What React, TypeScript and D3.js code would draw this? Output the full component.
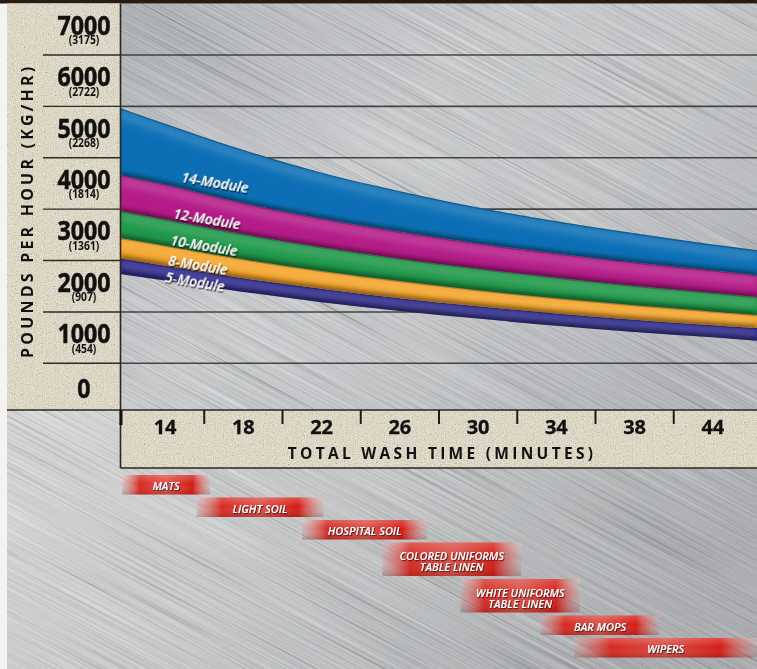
import React from 'react';
import * as d3 from 'd3';

// Wash-time categories on the horizontal axis (minutes)
const washTimes = [14, 18, 22, 26, 30, 34, 38, 44];

// Throughput ticks (lbs/hr) with metric equivalents (kg/hr)
const lbsTicks = [0, 1000, 2000, 3000, 4000, 5000, 6000, 7000];
const kgTicks = ['', '454', '907', '1361', '1814', '2268', '2722', '3175'];
const gridValues = [500, 1500, 2500, 3500, 4500, 5500, 6500];

// Capacity curves sampled along the wash-time axis (minutes -> lbs/hr)
const sampleMinutes = [11.7, 14, 18, 22, 26, 30, 34, 38, 44, 47.4];
const module14 = [5470, 5160, 4650, 4210, 3850, 3530, 3265, 3030, 2810, 2700];
const module12 = [4165, 3980, 3615, 3315, 3060, 2830, 2635, 2460, 2305, 2215];
const module10 = [3465, 3300, 3010, 2760, 2535, 2340, 2165, 2005, 1870, 1790];
const module8 = [2940, 2790, 2525, 2295, 2100, 1920, 1765, 1630, 1510, 1440];
const module5 = [2540, 2400, 2155, 1950, 1765, 1610, 1470, 1350, 1240, 1185];
const module5Floor = [2240, 2110, 1890, 1690, 1520, 1370, 1230, 1110, 1005, 940];

const moduleNames = ['5-Module', '8-Module', '10-Module', '12-Module', '14-Module'];
const moduleColors = ['#2d298c', '#f4a328', '#1e9748', '#b41b88', '#0c6fb5'];

// Typical wash-time ranges by soil type (minutes)
const soilLines = [
  ['MATS'],
  ['LIGHT SOIL'],
  ['HOSPITAL SOIL'],
  ['COLORED UNIFORMS', 'TABLE LINEN'],
  ['WHITE UNIFORMS', 'TABLE LINEN'],
  ['BAR MOPS'],
  ['WIPERS'],
];
const soilStart = [11.8, 15.6, 21.0, 25.1, 29.1, 33.2, 34.9];
const soilEnd = [16.3, 22.1, 27.4, 32.2, 35.2, 39.9, 47.4];

const FONT = "'Open Sans', 'Liberation Sans', sans-serif";

export default function App() {
  const W = 757;
  const H = 669;
  const plot = { left: 120.5, right: 757, top: 3.5, bottom: 410 };
  const axisBottom = 468;

  const xBand = d3.scaleBand<string>().domain(washTimes.map(String)).range([126, 752]);
  const centers = washTimes.map((t) => (xBand(String(t)) ?? 0) + xBand.bandwidth() / 2);
  const xMin = d3.scaleLinear().domain(washTimes).range(centers);
  const y = d3.scaleLinear().domain([-500, 7500]).range([414.7, 3.6]);

  const tops = [module5, module8, module10, module12, module14];
  const bottoms = [module5Floor, module5, module8, module10, module12];

  type P = { t: number; lo: number; hi: number };
  const area = d3
    .area<P>()
    .x((d) => xMin(d.t))
    .y0((d) => y(d.lo))
    .y1((d) => y(d.hi))
    .curve(d3.curveMonotoneX);
  const edge = d3
    .line<{ t: number; v: number }>()
    .x((d) => xMin(d.t))
    .y((d) => y(d.v))
    .curve(d3.curveMonotoneX);

  const bands = moduleNames.map((name, k) => {
    const pts: P[] = sampleMinutes.map((t, i) => ({ t, lo: bottoms[k][i], hi: tops[k][i] }));
    return {
      name,
      color: moduleColors[k],
      d: area(pts) ?? '',
      top: edge(sampleMinutes.map((t, i) => ({ t, v: tops[k][i] }))) ?? '',
      bottom: edge(sampleMinutes.map((t, i) => ({ t, v: bottoms[k][i] }))) ?? '',
      hiAt: d3.scaleLinear().domain(sampleMinutes).range(tops[k]),
      loAt: d3.scaleLinear().domain(sampleMinutes).range(bottoms[k]),
    };
  });

  // ribbon label anchors (minute along the ribbon, vertical nudge)
  const labelMinute = [15.53, 15.68, 15.99, 16.14, 16.55];
  const labelDy = [3, 3, 5, 7, 13];

  // soil-type bar rows
  let cursor = 475;
  const rows = soilLines.map((lines, i) => {
    const h = lines.length > 1 ? 33.5 : 19.5;
    const r = { y: cursor, h, x0: xMin(soilStart[i]), x1: xMin(soilEnd[i]), lines };
    cursor += h + 3;
    return r;
  });

  const tickXs = washTimes.slice(1).map((t) => xBand(String(t)) ?? 0);

  return (
    <svg
      width={W}
      height={H}
      viewBox={`0 0 ${W} ${H}`}
      style={{ position: 'absolute', left: 0, top: 0, display: 'block' }}
      fontFamily={FONT}
    >
      <defs>
        <linearGradient id="metalTop" x1="0" y1="0" x2="1" y2="0.6">
          <stop offset="0" stopColor="#a8acb1" />
          <stop offset="0.45" stopColor="#ced0d3" />
          <stop offset="0.75" stopColor="#c5c8cb" />
          <stop offset="1" stopColor="#b3b6ba" />
        </linearGradient>
        <linearGradient id="metalBottom" x1="0" y1="0" x2="1" y2="0.3">
          <stop offset="0" stopColor="#e0e1e2" />
          <stop offset="0.5" stopColor="#c8cacc" />
          <stop offset="1" stopColor="#a5a8ac" />
        </linearGradient>
        <linearGradient id="redBar" x1="0" y1="0" x2="1" y2="0">
          <stop offset="0" stopColor="#e7675f" stopOpacity="0.15" />
          <stop offset="0.2" stopColor="#d8231b" stopOpacity="0.95" />
          <stop offset="0.5" stopColor="#df4238" stopOpacity="0.9" />
          <stop offset="0.8" stopColor="#d51c16" stopOpacity="1" />
          <stop offset="1" stopColor="#e7675f" stopOpacity="0.1" />
        </linearGradient>
        <linearGradient id="redShade" x1="0" y1="0" x2="0" y2="1">
          <stop offset="0" stopColor="#ffffff" stopOpacity="0.22" />
          <stop offset="0.45" stopColor="#ffffff" stopOpacity="0" />
          <stop offset="1" stopColor="#000000" stopOpacity="0.15" />
        </linearGradient>
        <filter id="brush" x="0" y="0" width="1" height="1">
          <feTurbulence type="fractalNoise" baseFrequency="0.005 0.6" numOctaves="2" seed="7" />
          <feColorMatrix
            type="matrix"
            values="0.33 0.33 0.33 0 0  0.33 0.33 0.33 0 0  0.33 0.33 0.33 0 0  0 0 0 0 1"
          />
          <feComponentTransfer>
            <feFuncR type="linear" slope="2.2" intercept="-0.6" />
            <feFuncG type="linear" slope="2.2" intercept="-0.6" />
            <feFuncB type="linear" slope="2.2" intercept="-0.6" />
          </feComponentTransfer>
        </filter>
        <filter id="grain" x="0" y="0" width="1" height="1">
          <feTurbulence type="fractalNoise" baseFrequency="0.9" numOctaves="2" seed="3" />
          <feColorMatrix
            type="matrix"
            values="0.33 0.33 0.33 0 0  0.33 0.33 0.33 0 0  0.33 0.33 0.33 0 0  0 0 0 0 1"
          />
          <feComponentTransfer>
            <feFuncR type="linear" slope="2.2" intercept="-0.6" />
            <feFuncG type="linear" slope="2.2" intercept="-0.6" />
            <feFuncB type="linear" slope="2.2" intercept="-0.6" />
          </feComponentTransfer>
        </filter>
        <filter id="soft" x="-10%" y="-50%" width="120%" height="200%">
          <feGaussianBlur stdDeviation="2.2" />
        </filter>
        <filter id="softer" x="-10%" y="-50%" width="120%" height="200%">
          <feGaussianBlur stdDeviation="3.5" />
        </filter>
        <filter id="barBlur" x="-5%" y="-20%" width="110%" height="140%">
          <feGaussianBlur stdDeviation="0.7" />
        </filter>
        <filter id="textShadow" x="-20%" y="-40%" width="140%" height="180%">
          <feDropShadow dx="1.2" dy="1.5" stdDeviation="0.7" floodColor="#000" floodOpacity="0.75" />
        </filter>
        <filter id="smallShadow" x="-20%" y="-40%" width="140%" height="180%">
          <feDropShadow dx="0.9" dy="1.1" stdDeviation="0.5" floodColor="#222" floodOpacity="0.8" />
        </filter>
        <clipPath id="plotClip">
          <rect x={plot.left} y={plot.top} width={plot.right - plot.left} height={plot.bottom - plot.top} />
        </clipPath>
        <clipPath id="metalClip">
          <rect x={7} y={plot.top} width={W - 7} height={H - plot.top} />
        </clipPath>
        <clipPath id="beigeClip">
          <rect x={7} y={plot.top} width={plot.left - 7} height={plot.bottom - plot.top} />
          <rect x={plot.left} y={plot.bottom} width={W - plot.left} height={axisBottom - plot.bottom} />
        </clipPath>
        {bands.map((b, k) => (
          <clipPath id={`band${k}`} key={b.name}>
            <path d={b.d} />
          </clipPath>
        ))}
      </defs>

      {/* page and brushed-metal backdrop */}
      <rect x={0} y={0} width={W} height={H} fill="#f3f3f3" />
      <rect x={7} y={plot.bottom} width={W - 7} height={H - plot.bottom} fill="url(#metalBottom)" />
      <rect x={plot.left} y={plot.top} width={plot.right - plot.left} height={plot.bottom - plot.top} fill="url(#metalTop)" />
      <g clipPath="url(#metalClip)">
        <g transform={`rotate(28 ${W / 2} ${H / 2})`}>
          <rect
            x={-300}
            y={-300}
            width={W + 600}
            height={H + 600}
            fill="#808080"
            filter="url(#brush)"
            opacity={0.3}
            style={{ mixBlendMode: 'overlay' }}
          />
        </g>
      </g>
      <rect x={0} y={0} width={W} height={plot.top} fill="#2a1b12" />

      {/* beige axis panels */}
      <rect x={7} y={plot.top} width={plot.left - 7} height={plot.bottom - plot.top} fill="#ebe4c9" />
      <rect x={plot.left} y={plot.bottom} width={W - plot.left} height={axisBottom - plot.bottom} fill="#ebe4c9" />
      <g clipPath="url(#beigeClip)">
        <rect
          x={0}
          y={0}
          width={W}
          height={axisBottom}
          fill="#808080"
          filter="url(#grain)"
          opacity={0.3}
          style={{ mixBlendMode: 'overlay' }}
        />
      </g>

      {/* horizontal grid */}
      {gridValues.map((v) => (
        <g key={v}>
          <line x1={plot.left} x2={plot.right} y1={y(v)} y2={y(v)} stroke="#2e2e2e" strokeWidth={1.6} opacity={0.85} />
          <line x1={43} x2={plot.left} y1={y(v)} y2={y(v)} stroke="#2e2a22" strokeWidth={1.4} />
        </g>
      ))}

      {/* module ribbons */}
      <g clipPath="url(#plotClip)">
        {bands.map((b) => (
          <path key={b.name} d={b.d} fill={b.color} />
        ))}
        {bands.map((b, k) => (
          <g key={`s${b.name}`} clipPath={`url(#band${k})`}>
            <path d={b.top} transform="translate(0,6)" fill="none" stroke="#ffffff" strokeOpacity={0.16} strokeWidth={9} filter="url(#softer)" />
            <path d={b.bottom} fill="none" stroke="#000000" strokeOpacity={0.42} strokeWidth={7} filter="url(#soft)" />
            <path d={b.top} fill="none" stroke="#000000" strokeOpacity={0.25} strokeWidth={2.5} filter="url(#barBlur)" />
          </g>
        ))}
      </g>

      {/* ribbon names */}
      {bands.map((b, k) => {
        const t = labelMinute[k];
        const cx = xMin(t);
        const cy = (y(b.hiAt(t)) + y(b.loAt(t))) / 2 + labelDy[k];
        return (
          <text
            key={`l${b.name}`}
            transform={`translate(${cx},${cy}) rotate(9.5)`}
            textAnchor="middle"
            dominantBaseline="central"
            fontSize={14}
            fontStyle="italic"
            fontWeight={600}
            fill="#ffffff"
            filter="url(#textShadow)"
          >
            {b.name}
          </text>
        );
      })}

      {/* frame lines */}
      <line x1={plot.left} x2={plot.left} y1={plot.top} y2={axisBottom} stroke="#2a2620" strokeWidth={1.6} />
      <line x1={7} x2={W} y1={plot.bottom} y2={plot.bottom} stroke="#2a2620" strokeWidth={1.6} />
      <line x1={plot.left} x2={W} y1={axisBottom} y2={axisBottom} stroke="#2a2620" strokeWidth={1.4} />
      <line x1={plot.left + 0.5} x2={plot.left + 0.5} y1={plot.bottom} y2={plot.bottom + 15} stroke="#111" strokeWidth={3} />
      {tickXs.map((tx) => (
        <line key={tx} x1={tx} x2={tx} y1={plot.bottom} y2={plot.bottom + 14} stroke="#1a1a1a" strokeWidth={2} />
      ))}

      {/* vertical axis labels: lbs/hr with kg/hr beneath */}
      {lbsTicks.map((v, i) => {
        const cy = y(v);
        const hasKg = kgTicks[i] !== '';
        return (
          <text
            key={v}
            transform={`translate(84,${cy}) scale(0.86,1)`}
            textAnchor="middle"
            fill="#111"
            fontWeight={700}
          >
            <tspan x={0} y={hasKg ? 5.5 : 8.5} fontSize={27} stroke="#111" strokeWidth={0.5}>
              {d3.format('d')(v)}
            </tspan>
            {hasKg && (
              <tspan x={0} y={15} fontSize={12}>
                ({kgTicks[i]})
              </tspan>
            )}
          </text>
        );
      })}
      <text
        transform={`translate(33,${(plot.top + plot.bottom) / 2 + 4}) rotate(-90)`}
        textAnchor="middle"
        fontSize={16}
        fontWeight={700}
        letterSpacing={3.2}
        fill="#111"
      >
        POUNDS PER HOUR (KG/HR)
      </text>

      {/* horizontal axis labels */}
      {washTimes.map((t, i) => (
        <text key={t} x={centers[i]} y={434} textAnchor="middle" fontSize={20} fontWeight={700} fill="#111" stroke="#111" strokeWidth={0.3}>
          {t}
        </text>
      ))}
      <text x={442} y={459} textAnchor="middle" fontSize={15.5} fontWeight={700} letterSpacing={3.3} fill="#111">
        TOTAL WASH TIME (MINUTES)
      </text>

      {/* soil-type wash-time ranges */}
      {rows.map((r, i) => (
        <g key={i}>
          <g filter="url(#barBlur)">
            <rect x={r.x0} y={r.y} width={r.x1 - r.x0} height={r.h} fill="url(#redBar)" />
            <rect x={r.x0} y={r.y} width={r.x1 - r.x0} height={r.h} fill="url(#redShade)" />
          </g>
          <text
            textAnchor="middle"
            fontSize={11}
            fontStyle="italic"
            fontWeight={600}
            fill="#ffffff"
            filter="url(#smallShadow)"
          >
            {r.lines.map((line, j) => (
              <tspan
                key={j}
                x={(r.x0 + r.x1) / 2}
                y={r.lines.length > 1 ? r.y + r.h / 2 + 1 + j * 11 : r.y + r.h / 2 + 5.3}
              >
                {line}
              </tspan>
            ))}
          </text>
        </g>
      ))}
    </svg>
  );
}
